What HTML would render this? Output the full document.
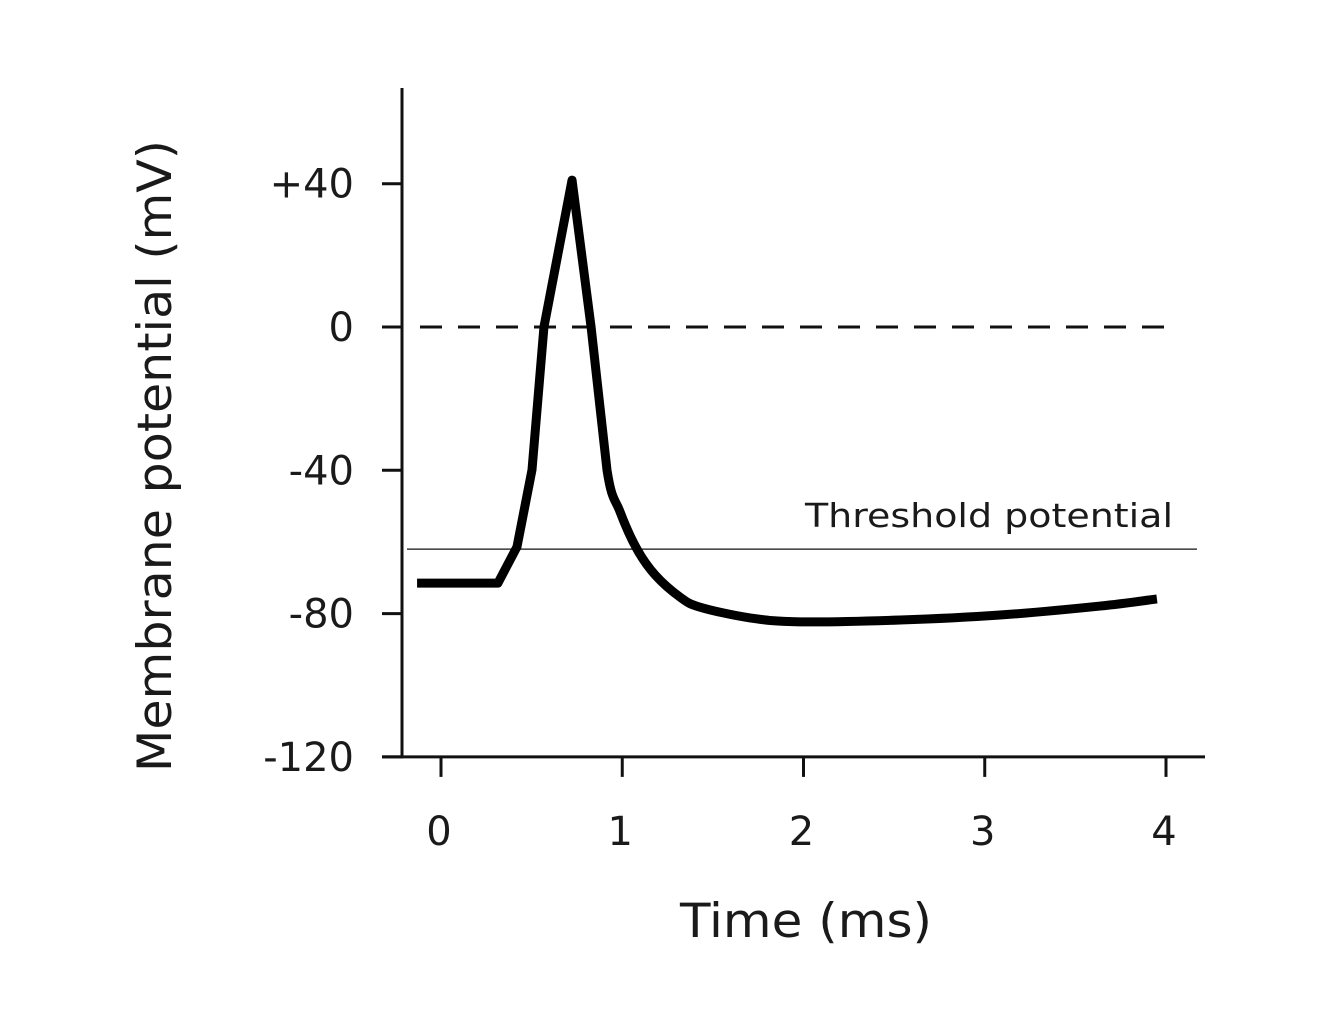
<!DOCTYPE html>
<html><head><meta charset="utf-8"><style>
html,body{margin:0;padding:0;background:#fff}
svg{display:block}
text{font-family:"DejaVu Sans","Liberation Sans",sans-serif;fill:#1a1a1a}
</style></head><body>
<svg id="chart" width="1334" height="1009" viewBox="0 0 1334 1009" xmlns="http://www.w3.org/2000/svg">
<g id="axes"></g>
<g id="marks"></g>
<text x="806" y="937" text-anchor="middle" font-size="47" textLength="252" lengthAdjust="spacingAndGlyphs">Time (ms)</text>
<text transform="translate(171,456) rotate(-90)" text-anchor="middle" font-size="47" textLength="632" lengthAdjust="spacingAndGlyphs">Membrane potential (mV)</text>
<text x="1173" y="527" text-anchor="end" font-size="33" textLength="368" lengthAdjust="spacingAndGlyphs">Threshold potential</text>
</svg>
<script>
const xTicks=[0,1,2,3,4];
const xTickLabels=["0","1","2","3","4"];
const yTicks=[40,0,-40,-80,-120];
const yTickLabels=["+40","0","-40","-80","-120"];
const timeMs=[-0.132,0.314,0.419,0.502,0.568,0.723,0.828,0.916,0.988,1.081,1.181,1.319,1.429,1.705,1.981,2.533,3.084,3.636,3.95];
const potentialMv=[-71.5,-71.5,-61.4,-39.9,0,41,0,-40,-51.6,-62,-69.2,-75.4,-78.2,-81.2,-82.3,-81.8,-80.4,-77.9,-75.9];
const thresholdMv=-62;
const zeroMv=0;

const NS="http://www.w3.org/2000/svg";
const sx=t=>441+t*181.25;
const sy=v=>327-v*143.3/40;
function mk(tag,attrs,parent){const e=document.createElementNS(NS,tag);for(const k in attrs)e.setAttribute(k,attrs[k]);parent.appendChild(e);return e;}
const axes=document.getElementById('axes'), marks=document.getElementById('marks');
let e=mk('line',{x1:402,y1:88,x2:402,y2:sy(-120)+1.5,stroke:'#111','stroke-width':3},axes);


e=mk('line',{x1:382,y1:sy(-120),x2:1205,y2:sy(-120),stroke:'#111','stroke-width':3},axes);


yTicks.forEach((v,i)=>{
  const t=mk('line',{x1:382,y1:sy(v),x2:402,y2:sy(v),stroke:'#111','stroke-width':3},axes);
  
  
  const l=mk('text',{x:354,y:sy(v)+14,'text-anchor':'end','font-size':40},axes);
  l.textContent=yTickLabels[i];
  
  
});
xTicks.forEach((v,i)=>{
  const t=mk('line',{x1:sx(v),y1:sy(-120),x2:sx(v),y2:sy(-120)+20,stroke:'#111','stroke-width':3},axes);
  
  
  const l=mk('text',{x:sx(v)-2,y:845,'text-anchor':'middle','font-size':40},axes);
  l.textContent=xTickLabels[i];
  
  
});
e=mk('line',{x1:420,y1:sy(zeroMv),x2:1168,y2:sy(zeroMv),stroke:'#111','stroke-width':3,'stroke-dasharray':'22 16'},marks);


e=mk('line',{x1:407,y1:sy(thresholdMv),x2:1197,y2:sy(thresholdMv),stroke:'#111','stroke-width':1.3},marks);


const pts=timeMs.map((t,i)=>[sx(t),sy(potentialMv[i])]);
let d='M'+pts[0][0]+','+pts[0][1];
const smoothFrom=7;
for(let i=1;i<pts.length;i++){
  const p2=pts[i];
  if(i<=smoothFrom){d+=' L'+p2[0]+','+p2[1];continue;}
  const p0=pts[i-2],p1=pts[i-1],p3=pts[i+1]||p2;
  const c1=[p1[0]+(p2[0]-p0[0])/6,p1[1]+(p2[1]-p0[1])/6];
  const c2=[p2[0]-(p3[0]-p1[0])/6,p2[1]-(p3[1]-p1[1])/6];
  d+=' C'+c1[0]+','+c1[1]+' '+c2[0]+','+c2[1]+' '+p2[0]+','+p2[1];
}
e=mk('path',{d:d,fill:'none',stroke:'#000','stroke-width':9,'stroke-linejoin':'round'},marks);


</script>
</body></html>
